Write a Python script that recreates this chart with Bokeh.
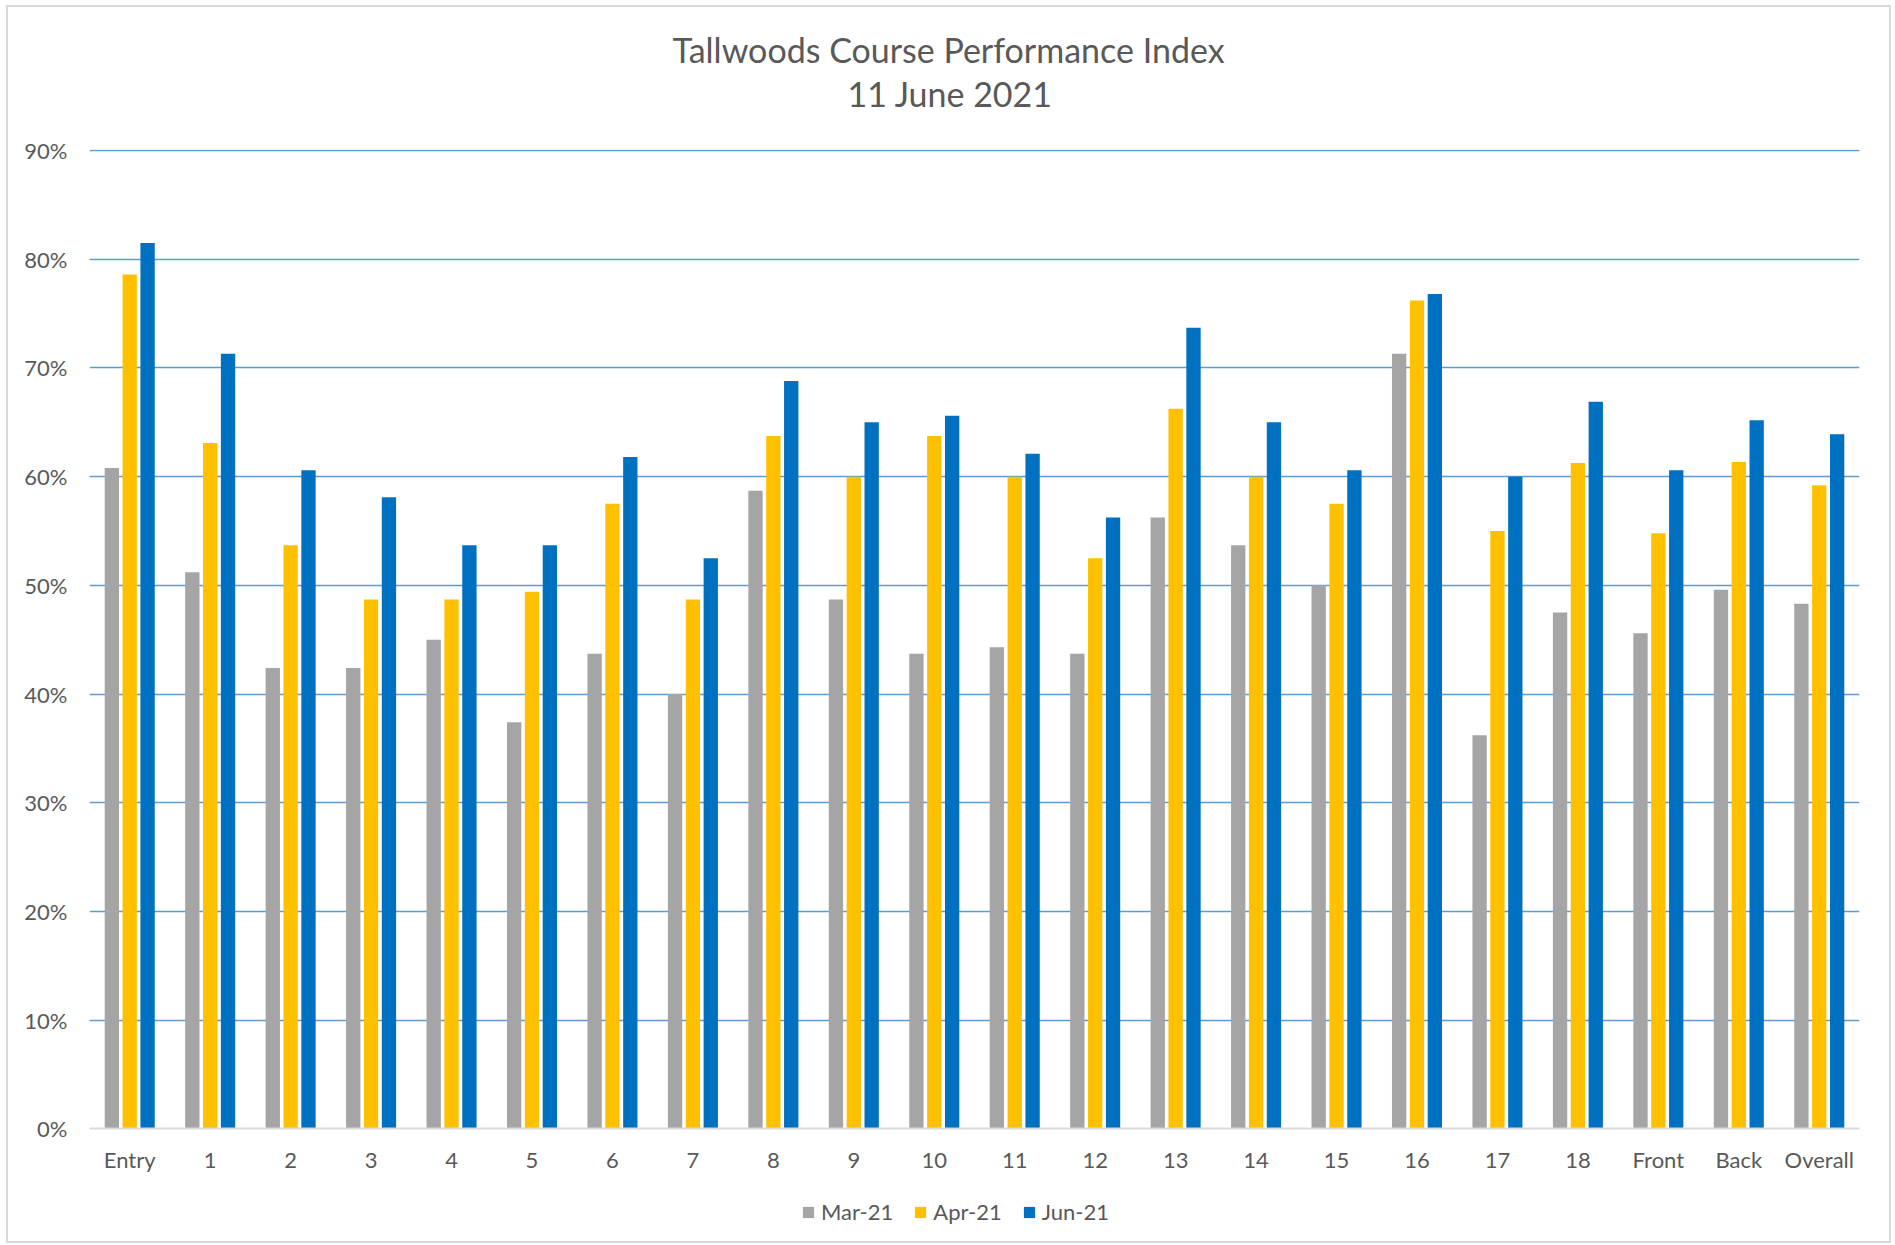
from bokeh.plotting import figure
from bokeh.models import (FactorRange, Range1d, ColumnDataSource, Legend, LegendItem,
                          FixedTicker, NumeralTickFormatter, Title)
from bokeh.transform import dodge
from bokeh.embed import file_html
from bokeh.resources import INLINE

# ---------------- data ----------------
categories = ["Entry", "1", "2", "3", "4", "5", "6", "7", "8", "9", "10", "11",
              "12", "13", "14", "15", "16", "17", "18", "Front", "Back", "Overall"]
mar21 = [60.8, 51.2, 42.4, 42.4, 45.0, 37.4, 43.7, 40.0, 58.7, 48.7, 43.7, 44.3,
         43.7, 56.25, 53.7, 50.0, 71.3, 36.2, 47.5, 45.6, 49.6, 48.3]
apr21 = [78.6, 63.1, 53.7, 48.7, 48.7, 49.4, 57.5, 48.7, 63.75, 60.0, 63.75, 60.0,
         52.5, 66.25, 60.0, 57.5, 76.2, 55.0, 61.25, 54.8, 61.35, 59.2]
jun21 = [81.5, 71.3, 60.6, 58.1, 53.7, 53.7, 61.8, 52.5, 68.8, 65.0, 65.6, 62.1,
         56.25, 73.7, 65.0, 60.6, 76.8, 60.0, 66.9, 60.6, 65.2, 63.9]
series_names = ["Mar-21", "Apr-21", "Jun-21"]
y_ticks = [0.0, 0.1, 0.2, 0.3, 0.4, 0.5, 0.6, 0.7, 0.8, 0.9]
title_line1 = "Tallwoods Course Performance Index"
title_line2 = "11 June 2021"

FONT = "Lato"
TXT = "#595959"
COLORS = ["#A5A5A5", "#FFC000", "#0070C0"]

src = ColumnDataSource(dict(
    cat=categories,
    mar=[v / 100 for v in mar21],
    apr=[v / 100 for v in apr21],
    jun=[v / 100 for v in jun21],
))

# the frame reaches below 0 so that the legend can sit inside it
p = figure(x_range=FactorRange(*categories), y_range=Range1d(-0.1, 0.901),
           frame_width=1770, frame_height=1088,
           output_backend="svg", toolbar_location=None, title=None,
           min_border_left=81, min_border_right=30, min_border_top=142,
           min_border_bottom=4)
p.x_range.range_padding = 0

BW = 0.178
OFF = 0.222
renderers = []
for col, off, color in zip(["mar", "apr", "jun"], [-OFF, 0, OFF], COLORS):
    r = p.vbar(x=dodge("cat", off, range=p.x_range), top=col, bottom=0, width=BW,
               source=src, fill_color=color, line_color=None)
    renderers.append(r)

# axes
p.xaxis.fixed_location = 0
p.xaxis.axis_line_color = "#D9D9D9"
p.xaxis.axis_line_width = 2
p.xaxis.major_tick_line_color = None
p.xaxis.minor_tick_line_color = None
p.xaxis.major_label_text_font = FONT
p.xaxis.major_label_text_font_size = "22px"
p.xaxis.major_label_text_color = TXT
p.xaxis.major_label_standoff = 11

p.yaxis.axis_line_color = None
p.yaxis.ticker = FixedTicker(ticks=y_ticks)
p.yaxis.formatter = NumeralTickFormatter(format="0%")
p.yaxis.major_tick_line_color = None
p.yaxis.minor_tick_line_color = None
p.yaxis.major_label_text_font = FONT
p.yaxis.major_label_text_font_size = "22px"
p.yaxis.major_label_text_color = TXT
p.yaxis.major_label_standoff = 16

p.xgrid.grid_line_color = None
p.ygrid.ticker = FixedTicker(ticks=y_ticks[1:])
p.ygrid.grid_line_color = "#5B9BD5"
p.ygrid.grid_line_width = 1.6

p.outline_line_color = None
p.styles = {"border": "2px solid #D9D9D9", "margin-left": "6px", "margin-top": "5px"}

# titles: a spacer next to the frame, then the date line, then the main line
spacer = Title(text=" ", text_font_size="2px", standoff=31)
sub = Title(text=title_line2, align="left", offset=758, text_font=FONT,
            text_font_size="34px", text_font_style="normal", text_color=TXT, standoff=1)
main = Title(text=title_line1, align="left", offset=583, text_font=FONT,
             text_font_size="34px", text_font_style="normal", text_color=TXT, standoff=1)
p.add_layout(spacer, "above")
p.add_layout(sub, "above")
p.add_layout(main, "above")

# legend (inside the frame, below the category labels)
legend = Legend(items=[LegendItem(label=n, renderers=[r]) for n, r in zip(series_names, renderers)],
                location=(712, 12), orientation="horizontal",
                label_text_font=FONT, label_text_font_size="22px", label_text_color=TXT,
                glyph_width=14, glyph_height=14, label_standoff=6, spacing=20,
                padding=0, margin=0, border_line_color=None, background_fill_alpha=0)
p.add_layout(legend)

open("out.html", "w").write(file_html(p, INLINE))
